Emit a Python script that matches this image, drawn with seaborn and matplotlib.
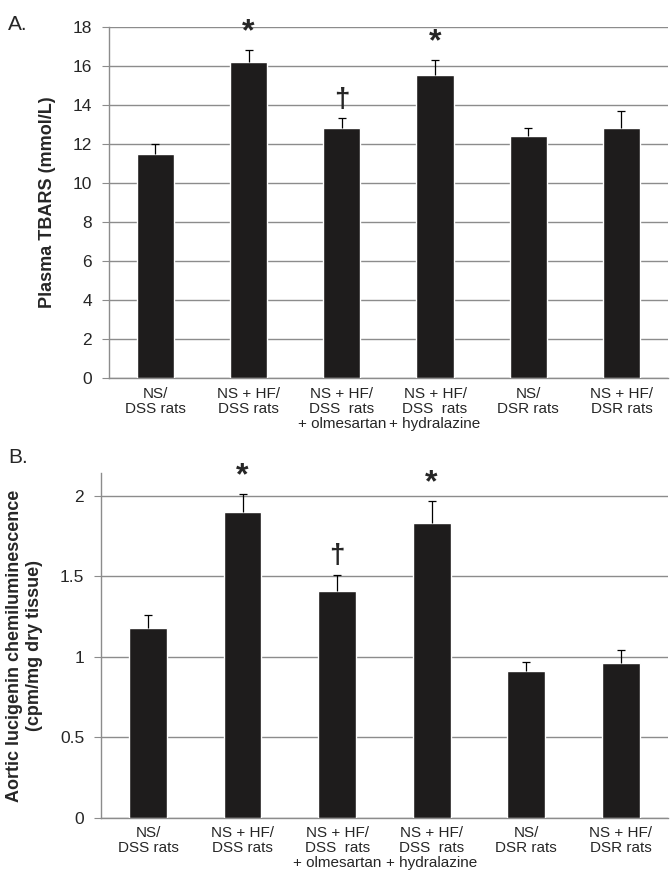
import numpy as np
import pandas as pd
import seaborn as sns
import matplotlib.pyplot as plt

# groups on the x axis
groups = ["NS/\nDSS rats", "NS + HF/\nDSS rats", "NS + HF/\nDSS  rats\n+ olmesartan",
          "NS + HF/\nDSS  rats\n+ hydralazine", "NS/\nDSR rats", "NS + HF/\nDSR rats"]

# panel A: plasma TBARS
tbars_mean = [11.5, 16.2, 12.8, 15.5, 12.4, 12.8]
tbars_err = [0.5, 0.6, 0.5, 0.8, 0.4, 0.9]
tbars_mark = ["", "*", "\u2020", "*", "", ""]

# panel B: aortic lucigenin chemiluminescence
luc_mean = [1.18, 1.90, 1.41, 1.83, 0.91, 0.96]
luc_err = [0.08, 0.11, 0.10, 0.14, 0.06, 0.08]
luc_mark = ["", "*", "\u2020", "*", "", ""]

sns.set_style("white")
plt.rcParams['font.family'] = ['Liberation Sans', 'DejaVu Sans']

fig = plt.figure(figsize=(6.72, 8.88), dpi=100)
axA = fig.add_axes([0.162, 0.574, 0.832, 0.396])
axB = fig.add_axes([0.150, 0.079, 0.844, 0.388])

bar_color = "#1e1c1c"
grid_color = "#8c8c8c"


def panel(ax, means, errs, marks, ylim, yticks, ylabel):
    df = pd.DataFrame({"group": groups, "value": means})
    sns.barplot(data=df, x="group", y="value", color=bar_color, width=0.4,
                errorbar=None, ax=ax, zorder=3, saturation=1)
    x = np.arange(len(means))
    eb = ax.errorbar(x, means, yerr=[np.zeros(len(errs)), errs], fmt="none",
                     ecolor="black", elinewidth=0.9, capsize=3, capthick=0.9, zorder=4)
    # only the upper cap is visible in the original
    eb.lines[1][0].set_visible(False)
    for xi, m, e, s in zip(x, means, errs, marks):
        if s == "*":
            ax.annotate(s, (xi, m + e), xytext=(0, 2), textcoords="offset points",
                        ha="center", va="bottom", fontsize=23, fontweight="bold",
                        annotation_clip=False)
        elif s:
            ax.annotate(s, (xi, m + e), xytext=(0, 4), textcoords="offset points",
                        ha="center", va="bottom", fontsize=20, fontweight="bold",
                        annotation_clip=False)
    ax.set_ylim(*ylim)
    ax.set_xlim(-0.5, len(means) - 0.5)
    ax.set_yticks(yticks)
    ax.yaxis.grid(True, color=grid_color, lw=1)
    ax.set_axisbelow(True)
    for sp in ["top", "right"]:
        ax.spines[sp].set_visible(False)
    for sp in ["left", "bottom"]:
        ax.spines[sp].set_color(grid_color)
        ax.spines[sp].set_linewidth(1)
    ax.tick_params(axis="y", length=5, color=grid_color, labelsize=12.5, pad=7, left=True)
    ax.tick_params(axis="x", length=0, labelsize=11, pad=6)
    for lab in ax.get_xticklabels():
        lab.set_linespacing(1.1)
    ax.set_xlabel("")
    ax.set_ylabel(ylabel, fontsize=13, fontweight="bold", labelpad=12)


panel(axA, tbars_mean, tbars_err, tbars_mark, (0, 18), np.arange(0, 19, 2),
      "Plasma TBARS (mmol/L)")
panel(axB, luc_mean, luc_err, luc_mark, (0, 2.14), [0, 0.5, 1, 1.5, 2],
      "Aortic lucigenin chemiluminescence\n(cpm/mg dry tissue)")
axB.set_yticklabels(["0", "0.5", "1", "1.5", "2"])

fig.text(0.012, 0.972, "A.", fontsize=15, va="center")
fig.text(0.012, 0.485, "B.", fontsize=15, va="center")

fig.savefig("out.png", dpi=100)
